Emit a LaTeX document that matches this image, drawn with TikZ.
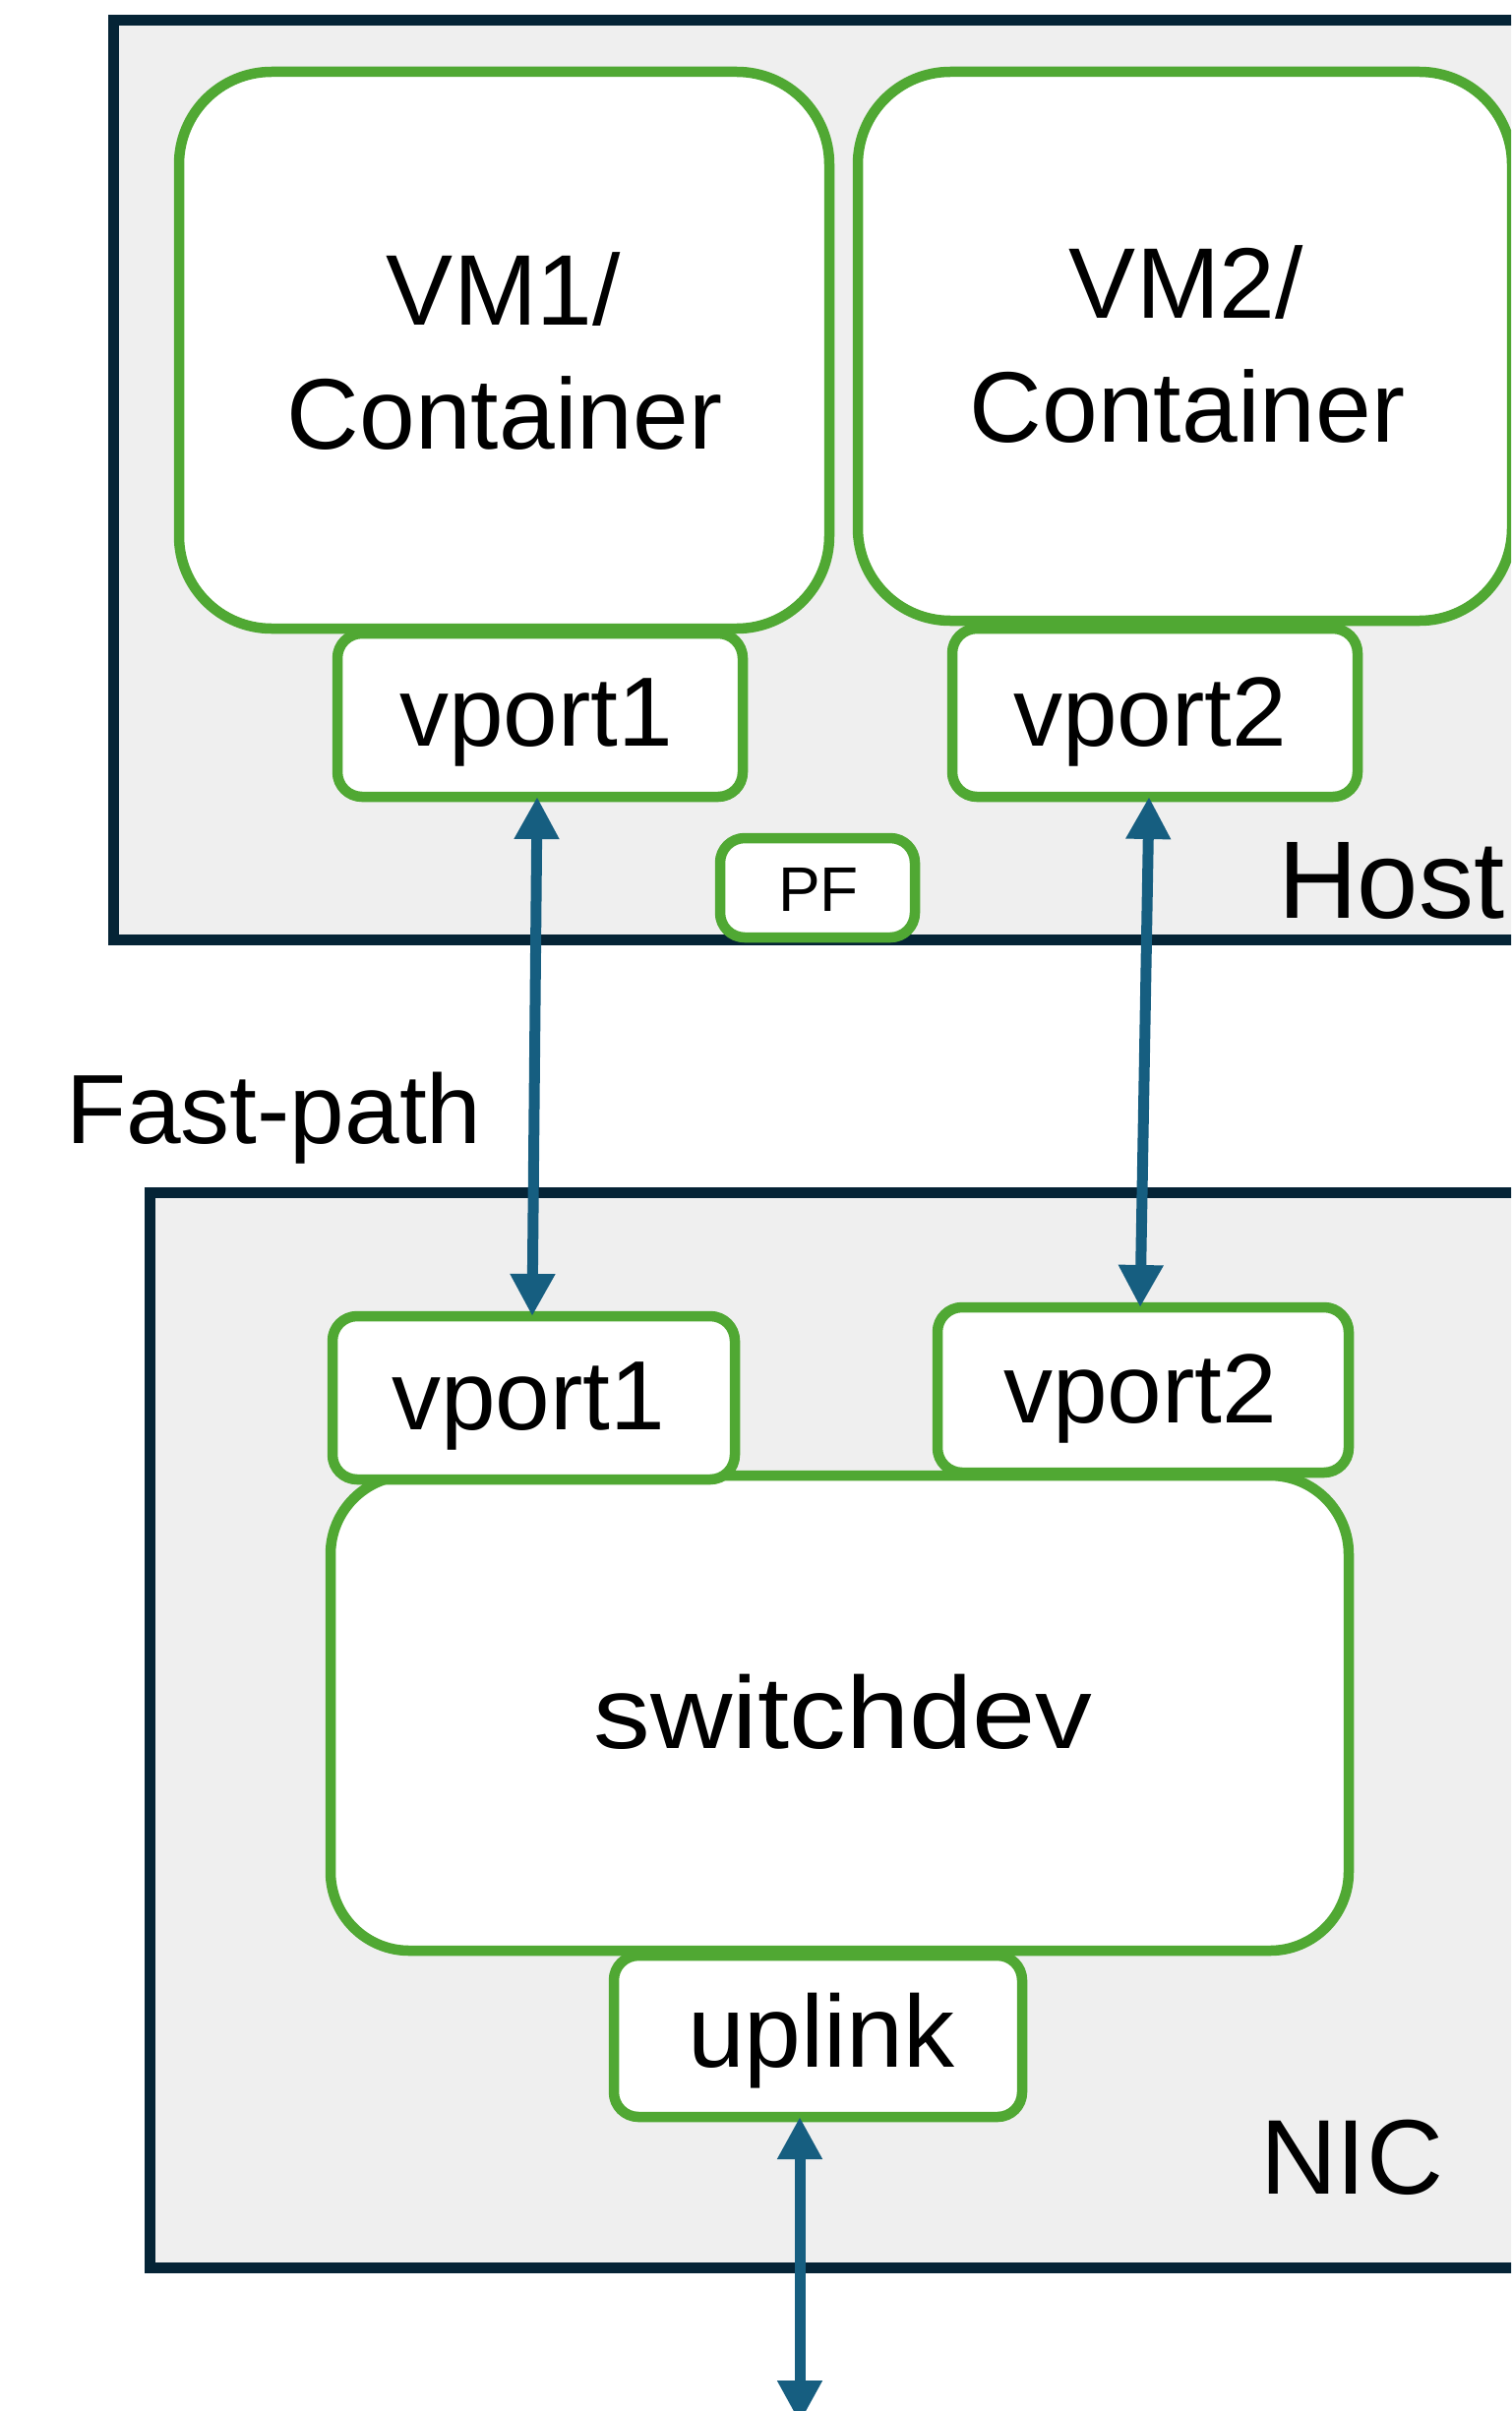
\documentclass[tikz,border=0pt]{standalone}
\usepackage{fontspec}
\setmainfont{Liberation Sans}
\usepackage{graphicx}
\usetikzlibrary{fit,arrows.meta}
\definecolor{boxgreen}{RGB}{80,168,51}
\definecolor{frameblue}{RGB}{5,36,54}
\definecolor{panelgrey}{RGB}{239,239,239}
\definecolor{linkblue}{RGB}{22,94,128}
\newcommand{\fs}[1]{\fontsize{#1}{1.2\dimexpr#1\relax}\selectfont}
\begin{document}
\begin{tikzpicture}[x=0.5pt,y=-0.5pt,
  region/.style={draw=frameblue, line width=5.5pt, fill=panelgrey, inner sep=0pt, outer sep=0pt},
  unit/.style={draw=boxgreen, line width=5.25pt, fill=white, inner sep=0pt, outer sep=0pt},
  bigunit/.style={unit, rounded corners=47pt},
  port/.style={unit, rounded corners=12.5pt},
  swunit/.style={unit, rounded corners=40pt},
  lbl/.style={inner sep=0pt, outer sep=0pt, anchor=base},
  tag/.style={inner sep=0pt, outer sep=0pt, anchor=base west},
  flow/.style={draw=linkblue, line width=5.5pt,
    {Triangle[length=21.5pt,width=21.5pt]}-{Triangle[length=21.5pt,width=21.5pt]}}]
\useasboundingbox (0,0) rectangle (1536,2451);
\clip (0,0) rectangle (1536,2451);

% Host panel
\node[region, fit={(115,21) (1570,955)}] (host) {};
\node[bigunit, fit={(182,73) (843,639)}] (vm1) {};
\node[bigunit, fit={(872,73) (1537,631)}] (vm2) {};
\node[port, fit={(343,644) (755,810)}] (hv1) {};
\node[port, fit={(968,639) (1380,810)}] (hv2) {};
\node[port, fit={(732,852) (930,953)}] (pf) {};

\node[lbl, font=\fs{51pt}] at (512,330) {VM1/};
\node[lbl, font=\fs{51pt}] at (513,456) {Container};
\node[lbl, font=\fs{51pt}] at (1206,323) {VM2/};
\node[lbl, font=\fs{51pt}] at (1207,449) {Container};
\node[lbl, font=\fs{50pt}] at (545,758) {vport1};
\node[lbl, font=\fs{50pt}] at (1169,758) {vport2};
\node[lbl, font=\fs{32pt}] at (832,926) {PF};
\node[tag, font=\fs{56pt}] at (1299,933) {Host};

% Label between the panels
\node[tag, font=\fs{50pt}] at (67,1162) {Fast-path};

% NIC panel
\node[region, fit={(152,1212) (1570,2305)}] (nic) {};
\node[swunit, fit={(336,1500) (1371,1983)}] (sw) {};
\node[port, fit={(338,1338) (747,1504)}] (nv1) {};
\node[port, fit={(953,1329) (1371,1497)}] (nv2) {};
\node[port, fit={(624,1988) (1039,2152)}] (up) {};

\node[lbl, font=\fs{50pt}] at (537,1453) {vport1};
\node[lbl, font=\fs{50pt}] at (1159,1446) {vport2};
\node[lbl, font=\fs{52pt}] at (857,1777) {\scalebox{1.11}[1]{switchdev}};
\node[lbl, font=\fs{52pt}] at (835,2101) {uplink};
\node[tag, font=\fs{54pt}] at (1281,2230) {NIC};

% Links
\coordinate (wire) at (813,2463);
\draw[flow] ([xshift=-1.5pt]hv1.south) -- ([xshift=-0.75pt]nv1.north);
\draw[flow] ([xshift=-3pt]hv2.south) -- ([xshift=-1.5pt]nv2.north);
\draw[flow] ([xshift=-9.25pt]up.south) -- (wire);
\end{tikzpicture}
\end{document}
